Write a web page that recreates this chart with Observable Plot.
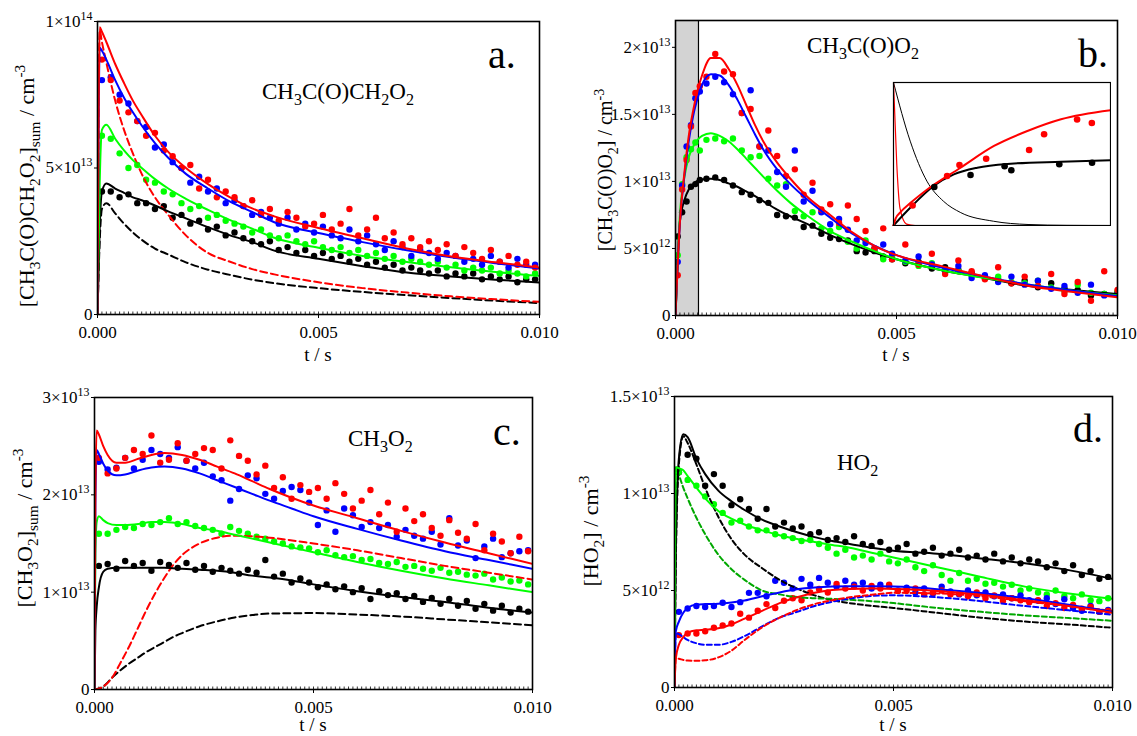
<!DOCTYPE html>
<html><head><meta charset="utf-8">
<script src="https://cdn.jsdelivr.net/npm/d3@7"></script>
<script src="https://cdn.jsdelivr.net/npm/@observablehq/plot@0.6"></script>
<style>
body{margin:0;background:#fff;}
#chart{position:relative;width:1137px;height:736px;overflow:hidden;background:#fff;font-family:"Liberation Serif",serif;}
#chart svg{position:absolute;}
#chart svg text, #chart svg tspan{font-family:"Liberation Serif","Times New Roman",serif !important;}
</style></head><body><div id="chart"></div>
<script>
const FONT = '"Liberation Serif","Times New Roman",serif';
const RED = "#ff0000", BLUE = "#0000ff", GREEN = "#00ff00", BLACK = "#000000", DKGREEN = "#00a800";

// shared axis
const xTicks = [0, 0.005, 0.01];
const xTickLabels = ["0.000", "0.005", "0.010"];
const xTitle = "t / s";

// data point times (panels a, c, d)
const tGrid = [0.0001,0.0003,0.0005,0.0007,0.0009,0.0011,0.0013,0.0015,0.0017,0.0019,0.0021,0.0023,0.0025,0.0027,0.0029,0.0031,0.0033,0.0035,0.0037,0.0039,0.0041,0.0043,0.0045,0.0047,0.0049,0.0051,0.0053,0.0055,0.0057,0.0059,0.0061,0.0063,0.0065,0.0067,0.0069,0.0071,0.0073,0.0075,0.0077,0.0079,0.0081,0.0083,0.0085,0.0087,0.0089,0.0091,0.0093,0.0095,0.0097,0.0099];

// ---------- panel a (units 1e14) ----------
const aYTicks = [0, 0.5, 1];
const aYLabels = ["0", "5×10^{13}", "1×10^{14}"];
const aRedPts = [0.87,0.80,0.73,0.69,0.66,0.61,0.62,0.56,0.54,0.50,0.51,0.43,0.46,0.40,0.42,0.40,0.37,0.39,0.34,0.36,0.32,0.35,0.33,0.30,0.31,0.34,0.29,0.31,0.36,0.27,0.29,0.33,0.26,0.28,0.24,0.26,0.23,0.25,0.22,0.24,0.20,0.23,0.21,0.19,0.22,0.18,0.20,0.17,0.18,0.16];
const aBluePts = [0.80,0.81,0.75,0.72,0.66,0.64,0.57,0.58,0.52,0.50,0.45,0.47,0.42,0.43,0.38,0.39,0.37,0.34,0.35,0.33,0.31,0.33,0.29,0.31,0.28,0.30,0.27,0.26,0.29,0.25,0.27,0.24,0.22,0.25,0.23,0.20,0.22,0.21,0.19,0.21,0.20,0.18,0.19,0.17,0.20,0.18,0.16,0.19,0.17,0.17];
const aGreenPts = [0.61,0.60,0.55,0.50,0.51,0.46,0.45,0.42,0.41,0.38,0.36,0.37,0.33,0.34,0.32,0.31,0.30,0.28,0.29,0.27,0.26,0.27,0.25,0.24,0.25,0.23,0.22,0.23,0.21,0.22,0.20,0.21,0.19,0.20,0.18,0.19,0.18,0.17,0.18,0.16,0.17,0.15,0.16,0.15,0.16,0.14,0.15,0.14,0.13,0.14];
const aBlackPts = [0.42,0.42,0.40,0.41,0.38,0.38,0.36,0.37,0.33,0.34,0.31,0.32,0.29,0.30,0.27,0.28,0.26,0.25,0.24,0.25,0.22,0.23,0.21,0.22,0.20,0.21,0.19,0.20,0.18,0.19,0.17,0.18,0.16,0.17,0.15,0.16,0.15,0.14,0.15,0.13,0.14,0.13,0.14,0.12,0.13,0.12,0.13,0.11,0.12,0.12];
const aLineT = [0,0.00005,0.0001,0.0002,0.0004,0.0006,0.0008,0.001,0.0013,0.0016,0.002,0.0025,0.003,0.0035,0.004,0.005,0.006,0.007,0.008,0.009,0.01];
const aRedFit = [0,0.98,0.965,0.93,0.855,0.79,0.73,0.68,0.61,0.555,0.50,0.445,0.40,0.362,0.335,0.295,0.26,0.225,0.198,0.178,0.16];
const aBlueFit = [0,0.91,0.90,0.87,0.80,0.74,0.69,0.645,0.585,0.535,0.48,0.43,0.385,0.35,0.315,0.278,0.247,0.219,0.195,0.175,0.157];
const aGreenFit = [0,0.45,0.63,0.648,0.60,0.56,0.527,0.50,0.462,0.43,0.395,0.357,0.322,0.293,0.262,0.228,0.20,0.179,0.161,0.145,0.132];
const aBlackFit = [0,0.30,0.42,0.447,0.43,0.415,0.40,0.39,0.372,0.352,0.328,0.298,0.27,0.247,0.218,0.19,0.165,0.143,0.13,0.119,0.109];
const aRedDash = [0,0.97,0.93,0.86,0.73,0.63,0.55,0.48,0.40,0.34,0.27,0.21,0.18,0.155,0.137,0.11,0.09,0.075,0.062,0.052,0.043];
const aBlackDash = [0,0.25,0.36,0.38,0.345,0.31,0.28,0.255,0.225,0.205,0.178,0.153,0.135,0.119,0.107,0.09,0.077,0.066,0.056,0.047,0.039];

// ---------- panel b (units 1e12) ----------
const bYTicks = [0, 5, 10, 15, 20];
const bYLabels = ["0", "5×10^{12}", "1×10^{13}", "1.5×10^{13}", "2×10^{13}"];
const bShade = [0, 0.00052];
const tDotB = [0.00005,0.00015,0.00025,0.00035,0.00045,0.00055,0.0007,0.0009,0.0011,0.0013,0.0015,0.0017,0.0019,0.0021,0.0023,0.0025,0.0027,0.0029,0.0031,0.0033,0.0035,0.0037,0.0039,0.0041,0.0043,0.0045,0.0047,0.0049,0.0052,0.0055,0.0058,0.0061,0.0064,0.0067,0.007,0.0073,0.0076,0.0079,0.0082,0.0085,0.0088,0.0091,0.0094,0.0097,0.01];
const bRedPts = [3.0,9.4,11.6,14.1,16.6,17.1,17.8,19.5,18.2,18.0,15.1,15.4,12.6,13.8,11.9,10.4,10.9,9.0,9.9,7.9,8.3,6.9,8.2,7.2,6.3,5.0,6.5,4.2,5.3,3.8,4.6,3.1,4.1,3.3,2.7,3.6,2.4,2.9,2.2,3.1,1.6,2.5,1.1,3.3,1.9];
const bBluePts = [4.0,9.7,12.6,14.2,16.2,16.7,17.3,17.8,17.4,16.5,15.1,16.8,12.6,12.3,10.7,9.6,12.3,8.5,9.3,7.7,6.8,7.2,6.4,5.6,5.4,5.0,5.3,4.6,4.1,4.4,3.8,3.3,3.7,2.8,3.0,2.5,2.9,2.3,2.6,2.0,2.2,1.7,2.3,1.5,1.6];
const bGreenPts = [4.5,9.8,11.8,12.4,12.9,12.3,13.1,13.2,13.0,13.2,12.3,11.8,11.9,10.2,9.7,9.8,7.8,7.4,7.7,6.5,6.3,6.6,5.5,5.0,5.6,4.9,4.2,4.4,4.0,3.7,3.9,3.4,3.3,3.0,2.8,2.9,2.5,2.4,2.6,2.1,1.8,2.3,1.7,1.6,1.8];
const bBlackPts = [5.9,7.7,8.5,9.6,9.8,10.1,10.2,10.3,10.1,9.7,9.2,9.0,8.6,8.4,7.5,7.4,7.3,6.6,6.7,6.1,5.8,5.7,5.6,4.8,4.7,4.8,4.4,4.2,3.9,4.0,3.5,3.6,3.4,3.2,2.9,2.7,2.4,2.6,2.1,2.4,2.0,1.9,1.5,1.6,1.7];
const bLineT = [0,0.0001,0.0002,0.0003,0.0004,0.0005,0.0006,0.0008,0.001,0.0012,0.0014,0.0016,0.0018,0.002,0.0023,0.0026,0.003,0.0035,0.004,0.0045,0.005,0.006,0.007,0.008,0.009,0.01];
const bRedFit = [0,7.0,10.6,13.4,15.3,16.8,17.9,19.2,19.2,18.4,17.2,15.7,14.2,12.9,11.4,10.2,8.8,7.5,6.2,5.2,4.5,3.7,2.9,2.2,1.75,1.35];
const bBlueFit = [0,7.0,10.4,13.0,14.9,16.2,17.2,18.0,17.9,17.2,16.1,14.8,13.5,12.3,10.9,9.8,8.6,7.3,6.1,5.2,4.5,3.6,2.9,2.3,1.85,1.45];
const bGreenFit = [0,7.5,10.3,11.8,12.6,13.1,13.4,13.6,13.4,13.0,12.4,11.7,11.0,10.3,9.3,8.4,7.4,6.3,5.5,4.8,4.2,3.4,2.8,2.3,1.85,1.5];
const bBlackFit = [0,7.0,8.6,9.4,9.8,10.05,10.15,10.2,10.1,9.85,9.6,9.25,8.9,8.5,7.9,7.4,6.8,6.0,5.3,4.7,4.2,3.4,2.8,2.2,1.9,1.6];

// inset of panel b (arbitrary units)
const insetDecayBlackU = [0,0.077,0.154,0.23,0.31,0.46,0.62,0.8,1];
const insetDecayBlackW = [1,0.59,0.31,0.17,0.09,0.03,0.007,0.001,0];
const insetDecayRedU = [0,0.015,0.03,0.06,0.1,1];
const insetDecayRedW = [1,0.43,0.12,0.01,0,0];
const insetBlackFitU = [0,0.077,0.185,0.278,0.386,0.54,0.772,1];
const insetBlackFitW = [0,0.124,0.276,0.357,0.404,0.432,0.446,0.456];
const insetRedFitU = [0,0.01,0.03,0.08,0.154,0.309,0.463,0.617,0.772,1];
const insetRedFitW = [0,0.05,0.09,0.16,0.25,0.404,0.556,0.661,0.743,0.806];
const insetBlackDotU = [0.188,0.355,0.512,0.543,0.764,0.915];
const insetBlackDotW = [0.269,0.353,0.414,0.386,0.428,0.439];
const insetRedDotU = [0.088,0.247,0.304,0.427,0.625,0.694,0.846,0.914];
const insetRedDotW = [0.14,0.346,0.423,0.467,0.528,0.638,0.741,0.717];

// ---------- panel c (units 1e13) ----------
const cYTicks = [0, 1, 2, 3];
const cYLabels = ["0", "1×10^{13}", "2×10^{13}", "3×10^{13}"];
const cRedPts = [2.38,2.22,2.27,2.38,2.46,2.42,2.61,2.33,2.36,2.53,2.35,2.42,2.48,2.46,2.27,2.56,2.40,2.35,2.21,2.30,2.07,2.18,1.96,2.10,2.03,2.07,1.96,2.12,2.01,1.86,1.94,2.05,1.80,1.92,1.62,1.86,1.73,1.80,1.66,1.58,1.74,1.61,1.55,1.70,1.43,1.60,1.52,1.40,1.57,1.42];
const cBluePts = [2.34,2.26,2.28,2.38,2.27,2.36,2.46,2.42,2.38,2.49,2.35,2.27,2.33,2.19,2.15,1.94,2.06,2.20,2.17,2.01,1.96,2.04,2.08,2.05,1.92,1.69,1.84,1.62,1.86,1.79,1.67,1.72,1.66,1.69,1.57,1.64,1.58,1.55,1.62,1.49,1.76,1.48,1.53,1.35,1.47,1.55,1.36,1.40,1.42,1.43];
const cGreenPts = [1.60,1.60,1.64,1.67,1.66,1.70,1.69,1.72,1.76,1.70,1.72,1.68,1.66,1.64,1.60,1.67,1.63,1.60,1.57,1.55,1.52,1.50,1.47,1.46,1.45,1.41,1.43,1.38,1.36,1.37,1.33,1.34,1.30,1.29,1.31,1.26,1.27,1.24,1.22,1.25,1.20,1.21,1.18,1.17,1.19,1.13,1.15,1.11,1.12,1.08];
const cBlackPts = [1.27,1.29,1.24,1.32,1.27,1.30,1.22,1.31,1.28,1.25,1.30,1.23,1.27,1.21,1.25,1.22,1.19,1.23,1.20,1.33,1.16,1.19,1.10,1.14,1.10,1.05,1.08,1.03,1.06,1.00,1.04,0.93,1.01,0.97,0.99,0.93,0.96,0.90,0.94,0.88,0.93,0.86,0.91,0.83,0.88,0.81,0.86,0.79,0.83,0.80];
const cLineT = [0,0.00002,0.00005,0.0001,0.0002,0.0003,0.0005,0.0007,0.001,0.0013,0.0016,0.002,0.0024,0.0028,0.0032,0.0036,0.004,0.0045,0.005,0.006,0.007,0.008,0.009,0.01];
const cRedFit = [0,2.0,2.66,2.62,2.5,2.41,2.33,2.33,2.37,2.41,2.43,2.41,2.36,2.29,2.22,2.14,2.06,1.97,1.89,1.76,1.63,1.51,1.40,1.29];
const cBlueFit = [0,1.9,2.46,2.42,2.32,2.25,2.2,2.21,2.25,2.28,2.29,2.27,2.22,2.15,2.08,2.01,1.94,1.86,1.78,1.65,1.53,1.42,1.33,1.24];
const cGreenFit = [0,1.4,1.72,1.78,1.74,1.71,1.69,1.69,1.7,1.72,1.72,1.7,1.66,1.63,1.59,1.55,1.51,1.46,1.41,1.31,1.22,1.14,1.07,1.0];
const cBlackFit = [0,0.6,0.85,1.05,1.21,1.24,1.25,1.25,1.25,1.25,1.25,1.24,1.23,1.22,1.2,1.17,1.15,1.12,1.08,1.01,0.95,0.9,0.84,0.79];
const cDashT = [0,0.0002,0.0004,0.0006,0.0008,0.001,0.0012,0.0014,0.0016,0.0018,0.002,0.0024,0.0028,0.0032,0.0036,0.004,0.005,0.006,0.007,0.008,0.009,0.01];
const cRedDash = [0,0.03,0.12,0.28,0.45,0.64,0.83,1.0,1.15,1.28,1.38,1.5,1.56,1.58,1.575,1.56,1.5,1.43,1.35,1.27,1.2,1.13];
const cBlackDash = [0,0.03,0.12,0.2,0.27,0.33,0.39,0.44,0.49,0.54,0.58,0.65,0.7,0.74,0.765,0.78,0.785,0.77,0.75,0.72,0.69,0.66];

// ---------- panel d (units 1e12) ----------
const dYTicks = [0, 5, 10, 15];
const dYLabels = ["0", "5×10^{12}", "1×10^{13}", "1.5×10^{13}"];
const dBlackPts = [11.1,12.0,11.8,10.4,11.0,10.4,9.4,9.7,9.2,8.7,9.2,8.3,8.5,8.2,8.3,7.9,8.0,7.6,7.7,7.5,7.8,7.4,7.3,7.5,7.1,7.2,7.4,6.9,7.0,7.2,6.8,6.9,7.1,6.7,6.8,6.6,6.9,6.5,6.7,6.4,6.6,6.5,6.2,6.4,6.0,6.3,5.8,6.0,5.6,5.7];
const dGreenPts = [11.1,10.7,10.4,9.85,9.45,9.0,8.5,8.6,8.3,8.1,8.1,7.9,7.8,7.7,7.55,7.6,7.4,7.2,6.9,7.1,6.7,6.8,6.6,6.9,6.5,6.4,6.6,6.2,6.0,6.3,5.8,5.5,5.9,5.5,5.6,5.35,5.4,5.2,5.3,5.0,5.1,4.9,4.8,5.0,4.7,4.6,4.8,4.5,4.45,4.6];
const dBluePts = [3.9,4.07,4.2,4.15,4.2,4.37,4.15,4.4,4.88,4.88,4.7,5.5,5.4,5.1,5.6,5.3,5.65,5.4,5.2,5.5,5.3,5.4,5.1,5.3,5.24,5.0,5.14,4.9,5.1,4.85,5.2,4.95,4.8,5.0,4.75,4.9,4.7,4.8,4.6,4.75,4.5,4.47,4.6,4.3,4.55,4.1,3.96,4.2,3.9,4.0];
const dRedPts = [2.7,2.78,2.78,2.9,3.08,3.2,3.3,3.8,3.6,3.96,4.3,4.1,4.47,4.6,4.5,4.9,5.08,4.9,5.34,5.1,5.2,5.0,5.24,5.1,5.3,4.98,5.0,5.1,4.8,4.9,5.0,4.8,4.83,4.7,4.9,4.6,4.75,4.47,4.6,4.5,4.4,4.5,4.2,4.35,4.1,4.25,4.06,4.15,3.9,3.95];
const dLineT = [0,0.00003,0.0001,0.0002,0.0003,0.0005,0.0007,0.001,0.0013,0.0016,0.002,0.0024,0.0028,0.0032,0.0036,0.004,0.0045,0.005,0.006,0.007,0.008,0.009,0.01];
const dBlackFit = [0,7.0,11.8,13.05,12.9,11.8,11.0,10.15,9.6,9.15,8.65,8.3,8.0,7.75,7.55,7.4,7.2,7.05,6.9,6.65,6.4,6.05,5.6];
const dGreenFit = [0,11.35,11.3,11.2,10.9,10.3,9.75,9.1,8.7,8.4,8.1,7.85,7.65,7.5,7.35,7.2,6.95,6.7,6.2,5.7,5.2,4.85,4.57];
const dBlueFit = [0,2.9,3.4,3.85,4.1,4.28,4.3,4.32,4.38,4.48,4.7,4.9,5.06,5.15,5.2,5.22,5.22,5.2,5.07,4.87,4.6,4.27,3.9];
const dRedFit = [0,1.5,2.2,2.6,2.82,2.95,2.98,3.05,3.25,3.55,3.95,4.35,4.65,4.88,5.02,5.08,5.1,5.08,4.98,4.78,4.5,4.2,3.85];
const dBlueDash = [0,2.8,2.75,2.6,2.45,2.28,2.2,2.2,2.35,2.65,3.15,3.6,3.9,4.2,4.42,4.58,4.72,4.75,4.65,4.45,4.2,3.98,3.75];
const dRedDash = [0,1.5,1.48,1.42,1.39,1.38,1.4,1.55,1.9,2.45,3.1,3.6,4.0,4.3,4.5,4.65,4.78,4.88,4.85,4.7,4.45,4.2,3.95];
const dGreenDash = [0,11.35,10.95,10.3,9.75,8.75,7.9,6.85,6.1,5.55,5.0,4.8,4.66,4.6,4.57,4.52,4.45,4.35,4.1,3.9,3.72,3.58,3.44];
const dBlackDash = [0,6.5,11.5,12.95,12.6,11.5,10.3,8.8,7.65,6.85,6.15,5.55,5.1,4.75,4.5,4.35,4.21,4.1,3.85,3.6,3.4,3.25,3.08];

// ---------- helpers ----------
const pts = (t, v) => t.map((x, i) => ({t: x, v: v[i]}));
const minorTicks = d3.range(0, 0.01 + 1e-9, 0.0001);

function rich(node, str, size) {
  while (node.firstChild) node.removeChild(node.firstChild);
  const re = /([_^])\{([^}]*)\}|([^_^]+)/g;
  let m, off = 0;
  while ((m = re.exec(str)) !== null) {
    let target, fs, s;
    if (m[3] !== undefined) { target = 0; fs = size; s = m[3]; }
    else if (m[1] === "_") { target = size * 0.28; fs = size * 0.7; s = m[2]; }
    else { target = -size * 0.42; fs = size * 0.7; s = m[2]; }
    const ts = document.createElementNS("http://www.w3.org/2000/svg", "tspan");
    ts.setAttribute("dy", (target - off).toFixed(2));
    ts.setAttribute("font-size", fs.toFixed(1));
    ts.textContent = s;
    node.appendChild(ts);
    off = target;
  }
}
function addText(svg, str, x, y, size, opts = {}) {
  const t = d3.select(svg).append("text")
    .attr("x", x).attr("y", y)
    .attr("font-family", FONT).attr("font-size", size).attr("fill", "black")
    .attr("text-anchor", opts.anchor || "start");
  if (opts.rotate) t.attr("transform", `rotate(-90 ${x} ${y})`);
  rich(t.node(), str, size);
}

const chart = document.getElementById("chart");

function panel(c) {
  const ih = c.height - c.mt - c.mb;
  const marks = [];
  if (c.pre) marks.push(...c.pre);
  marks.push(Plot.ruleX(minorTicks, {x: d => d, insetTop: ih - 2.5, stroke: "black", strokeWidth: 0.8}));
  for (const s of c.dots) marks.push(Plot.dot(pts(s.t, s.v), {x: "t", y: "v", r: 3.2, fill: s.color, stroke: "none", clip: true}));
  for (const s of c.lines) marks.push(Plot.line(pts(s.t, s.v), {x: "t", y: "v", stroke: s.color, strokeWidth: 2, strokeDasharray: s.dash, curve: "monotone-x", clip: true}));
  marks.push(Plot.frame({stroke: "black", strokeWidth: 1.6}));
  const svg = Plot.plot({
    width: c.width, height: c.height,
    marginLeft: c.ml, marginRight: c.mr, marginTop: c.mt, marginBottom: c.mb,
    style: {fontFamily: FONT, fontSize: "17px", background: "transparent", color: "black"},
    x: {domain: [0, 0.01], ticks: xTicks, tickFormat: d => xTickLabels[xTicks.indexOf(d)], tickSize: 4, tickPadding: 7, label: null},
    y: {domain: c.yDomain, ticks: c.yTicks, tickFormat: d => c.yLabels[c.yTicks.indexOf(d)], tickSize: 3, tickPadding: 2, label: null},
    marks
  });
  svg.querySelectorAll("text").forEach(el => {
    if (el.textContent.includes("{")) rich(el, el.textContent, 17);
  });
  svg.style.left = c.left + "px";
  svg.style.top = c.top + "px";
  addText(svg, c.title, c.titleX, c.titleY, 23);
  addText(svg, c.letter, c.letterX, c.letterY, 40);
  addText(svg, c.ylab, c.ylabX, c.ylabY, c.ylabSize, {anchor: "middle", rotate: true});
  addText(svg, xTitle, c.ml + (c.width - c.ml - c.mr) / 2, c.xlabY, 19, {anchor: "middle"});
  chart.appendChild(svg);
  return svg;
}

// panel a
panel({
  left: 0, top: 0, width: 568, height: 368, ml: 97, mr: 29, mt: 21, mb: 54,
  yDomain: [0, 1], yTicks: aYTicks, yLabels: aYLabels,
  dots: [
    {t: tGrid, v: aBlackPts, color: BLACK}, {t: tGrid, v: aGreenPts, color: GREEN},
    {t: tGrid, v: aBluePts, color: BLUE}, {t: tGrid, v: aRedPts, color: RED}
  ],
  lines: [
    {t: aLineT, v: aBlackDash, color: BLACK, dash: "7,4"}, {t: aLineT, v: aRedDash, color: RED, dash: "7,4"},
    {t: aLineT, v: aBlackFit, color: BLACK}, {t: aLineT, v: aGreenFit, color: GREEN},
    {t: aLineT, v: aBlueFit, color: BLUE}, {t: aLineT, v: aRedFit, color: RED}
  ],
  title: "CH_{3}C(O)CH_{2}O_{2}", titleX: 262, titleY: 99,
  letter: "a.", letterX: 488, letterY: 68,
  ylab: "[CH_{3}C(O)CH_{2}O_{2}]_{sum} / cm^{-3}", ylabX: 34, ylabY: 186, ylabSize: 22,
  xlabY: 361
});

// panel b
panel({
  left: 568, top: 0, width: 569, height: 368, ml: 107, mr: 20, mt: 20, mb: 53,
  yDomain: [0, 22], yTicks: bYTicks, yLabels: bYLabels,
  pre: [
    Plot.rect([bShade], {x1: d => d[0], x2: d => d[1], fill: "#d3d3d3"}),
    Plot.ruleX([bShade[1]], {stroke: "black", strokeWidth: 1.2})
  ],
  dots: [
    {t: tDotB, v: bBlackPts, color: BLACK}, {t: tDotB, v: bGreenPts, color: GREEN},
    {t: tDotB, v: bBluePts, color: BLUE}, {t: tDotB, v: bRedPts, color: RED}
  ],
  lines: [
    {t: bLineT, v: bBlackFit, color: BLACK}, {t: bLineT, v: bGreenFit, color: GREEN},
    {t: bLineT, v: bBlueFit, color: BLUE}, {t: bLineT, v: bRedFit, color: RED}
  ],
  title: "CH_{3}C(O)O_{2}", titleX: 239, titleY: 53,
  letter: "b.", letterX: 510, letterY: 67,
  ylab: "[CH_{3}C(O)O_{2}] / cm^{-3}", ylabX: 44, ylabY: 170, ylabSize: 20,
  xlabY: 361
});

// inset in panel b
const inset = Plot.plot({
  width: 219, height: 145, margin: 1,
  style: {background: "white"},
  x: {domain: [0, 1], axis: null}, y: {domain: [0, 1], axis: null},
  marks: [
    Plot.line(pts(insetDecayBlackU, insetDecayBlackW), {x: "t", y: "v", stroke: BLACK, strokeWidth: 1, curve: "monotone-x"}),
    Plot.line(pts(insetDecayRedU, insetDecayRedW), {x: "t", y: "v", stroke: RED, strokeWidth: 1.2, curve: "monotone-x"}),
    Plot.line(pts(insetBlackFitU, insetBlackFitW), {x: "t", y: "v", stroke: BLACK, strokeWidth: 2, curve: "monotone-x"}),
    Plot.line(pts(insetRedFitU, insetRedFitW), {x: "t", y: "v", stroke: RED, strokeWidth: 2, curve: "monotone-x"}),
    Plot.dot(pts(insetBlackDotU, insetBlackDotW), {x: "t", y: "v", r: 3.3, fill: BLACK}),
    Plot.dot(pts(insetRedDotU, insetRedDotW), {x: "t", y: "v", r: 3.3, fill: RED}),
    Plot.frame({stroke: "black", strokeWidth: 1.2})
  ]
});
inset.style.left = "892px";
inset.style.top = "81px";
chart.appendChild(inset);

// panel c
panel({
  left: 0, top: 368, width: 568, height: 368, ml: 94, mr: 36, mt: 29, mb: 47,
  yDomain: [0, 3], yTicks: cYTicks, yLabels: cYLabels,
  dots: [
    {t: tGrid, v: cBlackPts, color: BLACK}, {t: tGrid, v: cGreenPts, color: GREEN},
    {t: tGrid, v: cBluePts, color: BLUE}, {t: tGrid, v: cRedPts, color: RED}
  ],
  lines: [
    {t: cDashT, v: cBlackDash, color: BLACK, dash: "7,4"}, {t: cDashT, v: cRedDash, color: RED, dash: "7,4"},
    {t: cLineT, v: cBlackFit, color: BLACK}, {t: cLineT, v: cGreenFit, color: GREEN},
    {t: cLineT, v: cBlueFit, color: BLUE}, {t: cLineT, v: cRedFit, color: RED}
  ],
  title: "CH_{3}O_{2}", titleX: 348, titleY: 78,
  letter: "c.", letterX: 493, letterY: 77,
  ylab: "[CH_{3}O_{2}]_{sum} / cm^{-3}", ylabX: 32, ylabY: 160, ylabSize: 22,
  xlabY: 363
});

// panel d
panel({
  left: 568, top: 368, width: 569, height: 368, ml: 106, mr: 25, mt: 28, mb: 49,
  yDomain: [0, 15], yTicks: dYTicks, yLabels: dYLabels,
  dots: [
    {t: tGrid, v: dBlackPts, color: BLACK}, {t: tGrid, v: dGreenPts, color: GREEN},
    {t: tGrid, v: dBluePts, color: BLUE}, {t: tGrid, v: dRedPts, color: RED}
  ],
  lines: [
    {t: dLineT, v: dBlackDash, color: BLACK, dash: "5,3"}, {t: dLineT, v: dGreenDash, color: DKGREEN, dash: "5,3"},
    {t: dLineT, v: dBlueDash, color: BLUE, dash: "5,3"}, {t: dLineT, v: dRedDash, color: RED, dash: "5,3"},
    {t: dLineT, v: dBlackFit, color: BLACK}, {t: dLineT, v: dGreenFit, color: GREEN},
    {t: dLineT, v: dBlueFit, color: BLUE}, {t: dLineT, v: dRedFit, color: RED}
  ],
  title: "HO_{2}", titleX: 269, titleY: 102,
  letter: "d.", letterX: 505, letterY: 74,
  ylab: "[HO_{2}] / cm^{-3}", ylabX: 30, ylabY: 163, ylabSize: 22,
  xlabY: 363
});
</script></body></html>
